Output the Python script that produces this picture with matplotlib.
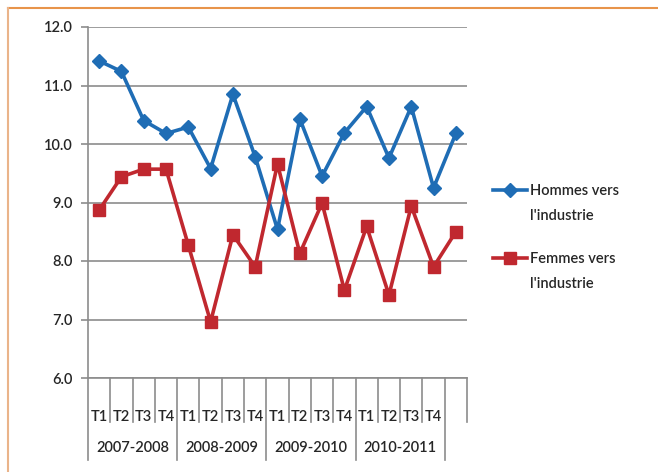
import matplotlib
matplotlib.use("Agg")
import matplotlib.pyplot as plt
from matplotlib.lines import Line2D
import numpy as np

quarters = ["T1", "T2", "T3", "T4"] * 4 + [""]
years = ["2007-2008", "2008-2009", "2009-2010", "2010-2011"]
hommes = [11.42, 11.24, 10.40, 10.18, 10.29, 9.58, 10.85, 9.78, 8.54,
          10.43, 9.45, 10.19, 10.64, 9.76, 10.64, 9.25, 10.18]
femmes = [8.87, 9.44, 9.57, 9.57, 8.27, 6.96, 8.45, 7.90, 9.66,
          8.13, 8.99, 7.50, 8.59, 7.42, 8.94, 7.90, 8.50]
label_h = "Hommes vers\nl'industrie"
label_f = "Femmes vers\nl'industrie"

plt.rcParams['font.family'] = ['Lato', 'DejaVu Sans']
txt = '#262626'
grid_c = '#8c8c8c'
blue = '#1f6db5'
red = '#c0282f'
fw = 'semibold'

fig = plt.figure(figsize=(6.58, 4.72), dpi=100)
fig.patch.set_facecolor('white')
W, H = 658, 472
ax = fig.add_axes([88 / W, 1 - 378 / H, (467 - 88) / W, (378 - 27) / H])
ax.set_facecolor('white')

n = len(hommes)
x = np.arange(n)
ax.plot(x, hommes, color=blue, lw=2.6, marker='D', ms=7, mec=blue, mfc=blue,
        label=label_h, zorder=3)
ax.plot(x, femmes, color=red, lw=2.6, marker='s', ms=8.5, mec=red, mfc=red,
        label=label_f, zorder=3)

ax.set_xlim(-0.5, n - 0.5)
ax.set_ylim(6.0, 12.0)
ax.set_yticks(np.arange(6.0, 12.01, 1.0))
ax.set_yticklabels([f"{v:.1f}" for v in np.arange(6.0, 12.01, 1.0)],
                   fontsize=10.5, color=txt, fontweight=fw)
ax.yaxis.grid(True, color=grid_c, lw=1.2)
ax.set_axisbelow(True)
for s in ['top', 'right']:
    ax.spines[s].set_visible(False)
for s in ['left', 'bottom']:
    ax.spines[s].set_color(grid_c)
    ax.spines[s].set_linewidth(1.2)
ax.tick_params(axis='y', length=5, color=grid_c, width=1.2, pad=6)
ax.set_xticks([])

trans = ax.get_xaxis_transform()
for i, q in enumerate(quarters):
    if q:
        ax.text(i, -0.111, q, transform=trans, ha='center', va='center',
                fontsize=10.5, color=txt, fontweight=fw)
for b in range(n + 1):
    pos = b - 0.5
    long_line = (b % 4 == 0)
    y_end = -0.234 if long_line else -0.125
    ax.add_line(Line2D([pos, pos], [0, y_end], transform=trans, color=grid_c,
                       lw=1.2, clip_on=False))
for k, yname in enumerate(years):
    ax.text(4 * k + 1.5, -0.199, yname, transform=trans, ha='center',
            va='center', fontsize=10.5, color=txt, fontweight=fw)

# manual legend
def legend_entry(y_px, color, marker, ms, label):
    yf = 1 - y_px / H
    fig.add_artist(Line2D([493 / W, 527 / W], [yf, yf], transform=fig.transFigure,
                          color=color, lw=2.6))
    fig.add_artist(Line2D([510 / W], [yf], transform=fig.transFigure,
                          color=color, marker=marker, ms=ms, mec=color, mfc=color))
    fig.text(530 / W, yf + 6 / H, label, ha='left', va='top', fontsize=10.5,
             color=txt, fontweight=fw, linespacing=2.0)

legend_entry(190, blue, 'D', 7, label_h)
legend_entry(258, red, 's', 8.5, label_f)

oc = '#e8944a'
fig.add_artist(Line2D([8 / W, 1], [1 - 8 / H, 1 - 8 / H], transform=fig.transFigure,
                      color=oc, lw=1.5))
fig.add_artist(Line2D([8 / W, 8 / W], [0, 1 - 8 / H], transform=fig.transFigure,
                      color='#eab48a', lw=1.5))

fig.savefig('out.png', dpi=100, facecolor='white')
